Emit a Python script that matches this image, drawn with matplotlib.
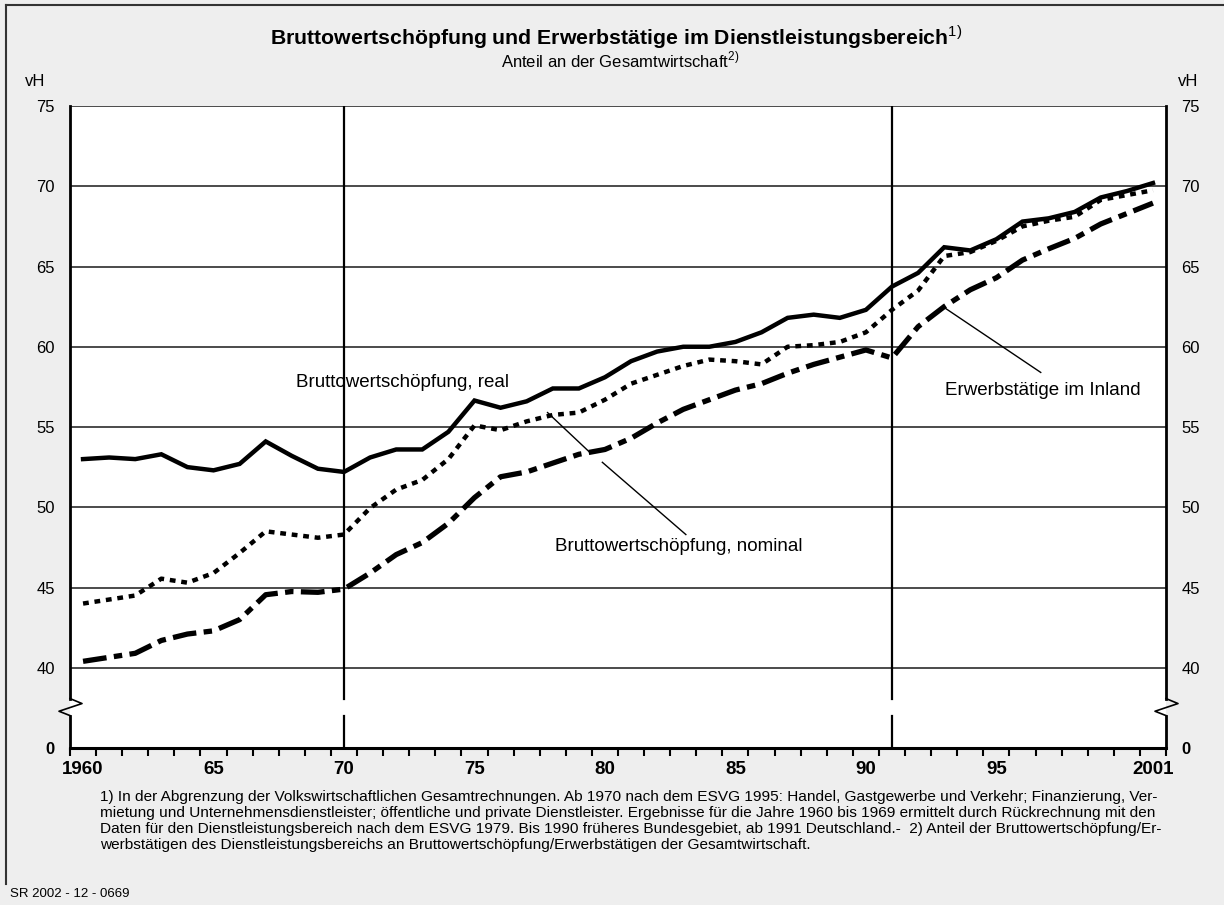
import matplotlib
matplotlib.use("Agg")
import matplotlib.pyplot as plt
from matplotlib.lines import Line2D

plt.rcParams['font.family'] = ['Liberation Sans', 'DejaVu Sans']
plt.rcParams['mathtext.fontset'] = 'custom'
plt.rcParams['mathtext.rm'] = 'Liberation Sans'

# Daten (Anteil in vH)
jahre = list(range(1960, 2002))
bws_real = [53.0, 53.1, 53.0, 53.3, 52.5, 52.3, 52.7, 54.1, 53.2, 52.4,
            52.2, 53.1, 53.6, 53.6, 54.7, 56.65, 56.2, 56.6, 57.4, 57.4,
            58.1, 59.1, 59.7, 60.0, 60.0, 60.3, 60.9, 61.8, 62.0, 61.8,
            62.3, 63.75, 64.6, 66.2, 66.0, 66.7, 67.8, 68.0, 68.4, 69.3,
            69.7, 70.2]
bws_nominal = [44.0, 44.25, 44.5, 45.55, 45.3, 45.9, 47.15, 48.5, 48.3, 48.1,
               48.3, 49.95, 51.1, 51.7, 53.0, 55.1, 54.8, 55.35, 55.75, 55.9,
               56.7, 57.7, 58.25, 58.8, 59.2, 59.1, 58.9, 60.0, 60.1, 60.3,
               60.9, 62.3, 63.5, 65.65, 65.9, 66.6, 67.5, 67.85, 68.1, 69.15,
               69.45, 69.75]
erwerbstaetige = [40.4, 40.65, 40.9, 41.7, 42.1, 42.3, 43.0, 44.55, 44.75, 44.7,
                  44.9, 45.9, 47.05, 47.8, 49.0, 50.6, 51.9, 52.2, 52.75, 53.3,
                  53.6, 54.3, 55.25, 56.1, 56.7, 57.3, 57.7, 58.35, 58.9, 59.35,
                  59.8, 59.3, 61.25, 62.5, 63.55, 64.3, 65.4, 66.1, 66.75, 67.65,
                  68.3, 68.95]

x_labels = {1960: '1960', 1965: '65', 1970: '70', 1975: '75', 1980: '80',
            1985: '85', 1990: '90', 1995: '95', 2001: '2001'}
y_ticks = [40, 45, 50, 55, 60, 65, 70, 75]
y_null = 35  # Position der "0" unterhalb des Achsenbruchs
umbruch = [38.08, 37.77, 37.29, 37.02]

W, H = 1224, 905
fig = plt.figure(figsize=(W / 100, H / 100), dpi=100, facecolor='#eeeeee')

def fx(px):
    return px / W

def fy(py):
    return 1 - py / H

ax = fig.add_axes([fx(70), fy(748), fx(1166) - fx(70), fy(106) - fy(748)])
ax.set_facecolor('white')
ax.set_xlim(1959.5, 2001.5)
ax.set_ylim(y_null, 75)

# Gitterlinien
for v in y_ticks:
    ax.axhline(v, color='#1a1a1a', lw=1.1, zorder=1)

# senkrechte Linien 1970 und 1991 mit Lücke am Achsenbruch
for j in (1970, 1991):
    ax.plot([j, j], [umbruch[0], 75], color='black', lw=1.6, zorder=1)
    ax.plot([j, j], [y_null, umbruch[3]], color='black', lw=1.6, zorder=1)

# Reihen
ax.plot(jahre, bws_real, color='black', lw=3.2, solid_joinstyle='miter', zorder=4)
ax.plot(jahre, bws_nominal, color='black', lw=3.2, dashes=(1.3, 1.3),
        dash_capstyle='butt', zorder=3)
ax.plot(jahre, erwerbstaetige, color='black', lw=3.8, dashes=(4.5, 1.4, 1.6, 1.4),
        dash_capstyle='butt', zorder=3)

# Beschriftungen
ax.text(1968.16, 57.8, 'Bruttowertschöpfung, real', fontsize=13.5, va='center', ha='left')
ax.text(1978.08, 47.55, 'Bruttowertschöpfung, nominal', fontsize=13.5, va='center', ha='left')
ax.text(1993.02, 57.3, 'Erwerbstätige im Inland', fontsize=13.5, va='center', ha='left')
ax.plot([1977.8, 1979.4], [55.9, 53.45], color='black', lw=1.0, zorder=2)
ax.plot([1979.9, 1983.1], [52.8, 48.3], color='black', lw=1.0, zorder=2)
ax.plot([1992.95, 1996.7], [62.5, 58.4], color='black', lw=1.0, zorder=2)

# Achsen
for s in ('top', 'left', 'right'):
    ax.spines[s].set_visible(False)
ax.spines['bottom'].set_linewidth(2.2)

tr = ax.get_yaxis_transform()
dx1, dx2 = 12 / 1096, 11 / 1096
for x0 in (0, 1):
    ax.add_line(Line2D([x0, x0], [75, umbruch[0]], transform=tr, color='black',
                       lw=2.0, clip_on=False, zorder=5))
    ax.add_line(Line2D([x0, x0 + dx1, x0 - dx2, x0],
                       umbruch, transform=tr, color='black', lw=1.2,
                       clip_on=False, zorder=5))
    ax.add_line(Line2D([x0, x0], [umbruch[3], y_null], transform=tr, color='black',
                       lw=2.0, clip_on=False, zorder=5))

ax.set_xticks([j - 0.5 for j in jahre] + [2001.5])
ax.set_xticklabels([])
ax.tick_params(axis='x', which='major', direction='out', length=6, width=1.5)
ax.set_xticks(list(x_labels.keys()), minor=True)
ax.set_xticklabels(list(x_labels.values()), minor=True, fontsize=13.5, fontweight='bold')
ax.tick_params(axis='x', which='minor', length=0, pad=9)

ax.set_yticks([y_null] + y_ticks)
ax.set_yticklabels(['0'] + [str(v) for v in y_ticks], fontsize=12)
ax.tick_params(axis='y', length=0, pad=11, labelleft=True, labelright=True)
# "0" fett
for t in ax.yaxis.get_major_ticks()[:1]:
    t.label1.set_fontweight('bold')
    t.label2.set_fontweight('bold')

# Titel
fig.text(fx(616), fy(37), 'Bruttowertschöpfung und Erwerbstätige im Dienstleistungsbereich$^{1)}$',
         ha='center', va='center', fontsize=15.3, fontweight='bold')
fig.text(fx(620), fy(60), 'Anteil an der Gesamtwirtschaft$^{2)}$',
         ha='center', va='center', fontsize=12)
fig.text(fx(35), fy(81), 'vH', ha='center', va='center', fontsize=12)
fig.text(fx(1188), fy(81), 'vH', ha='center', va='center', fontsize=12)

fussnote = ('1) In der Abgrenzung der Volkswirtschaftlichen Gesamtrechnungen. Ab 1970 nach dem ESVG 1995: Handel, Gastgewerbe und Verkehr; Finanzierung, Ver-\n'
            'mietung und Unternehmensdienstleister; öffentliche und private Dienstleister. Ergebnisse für die Jahre 1960 bis 1969 ermittelt durch Rückrechnung mit den\n'
            'Daten für den Dienstleistungsbereich nach dem ESVG 1979. Bis 1990 früheres Bundesgebiet, ab 1991 Deutschland.-  2) Anteil der Bruttowertschöpfung/Er-\n'
            'werbstätigen des Dienstleistungsbereichs an Bruttowertschöpfung/Erwerbstätigen der Gesamtwirtschaft.')
fig.text(fx(100), fy(790), fussnote, ha='left', va='top', fontsize=11.1, linespacing=1.18)
fig.text(fx(10), fy(894), 'SR 2002 - 12 - 0669', ha='left', va='center', fontsize=9.5)

# Rahmen
fig.add_artist(Line2D([fx(6), fx(1224)], [fy(5), fy(5)], color='#333333', lw=1.5))
fig.add_artist(Line2D([fx(6), fx(6)], [fy(5), fy(884)], color='#333333', lw=1.5))

fig.savefig('out.png', dpi=100, facecolor=fig.get_facecolor())
